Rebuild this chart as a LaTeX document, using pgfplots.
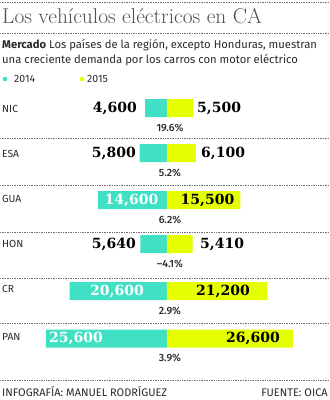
\documentclass[border=0pt]{standalone}
\usepackage{pgfplots}
\pgfplotsset{compat=1.18}
\usepackage{fontspec}
\setmainfont{Fira Sans}
\newfontfamily\numfont{DejaVu Serif}
\newfontfamily\titlefont{Latin Modern Roman}
\newfontfamily\medfont{Fira Sans Medium}
\definecolor{cteal}{HTML}{40E0C4}
\definecolor{cyel}{HTML}{E6FF00}
\definecolor{ctxt}{HTML}{2A2A2A}
\definecolor{ctitle}{HTML}{505050}
\definecolor{cdot}{HTML}{707070}
\begin{document}
\begin{tikzpicture}[x=1pt,y=1pt]
\tikzset{num/.style={font=\numfont\bfseries\fontsize{14}{14}\selectfont, inner sep=0pt},
 pct/.style={font=\medfont\fontsize{10.5}{10}\selectfont, text=ctxt, inner sep=0pt},
 ctry/.style={font=\fontsize{10.3}{10}\selectfont, text=ctxt, inner sep=0pt, anchor=west}}
\begin{axis}[
  at={(0,0)}, anchor=south west,
  scale only axis, width=330pt, height=400pt,
  xmin=-35.307, xmax=34.461,
  ymin=0, ymax=400, y dir=reverse,
  axis lines=none, ticks=none, clip=false,
]
\addplot[xbar, bar width=18pt, bar shift=0pt, fill=cteal, draw=none]
  coordinates {(-4.6,108) (-5.8,153) (-14.6,200) (-5.64,244) (-20.6,291) (-25.6,338.5)};
\addplot[xbar, bar width=18pt, bar shift=0pt, fill=cyel, draw=none]
  coordinates {(5.5,108) (6.1,153) (15.5,200) (5.41,244) (21.2,291) (26.6,338.5)};
% outside labels
\node[num, anchor=east] at (axis cs:-6.34,108) {4,600};
\node[num, anchor=west] at (axis cs:6.34,108) {5,500};
\node[num, anchor=east] at (axis cs:-6.55,153) {5,800};
\node[num, anchor=west] at (axis cs:7.19,153) {6,100};
\node[num, anchor=east] at (axis cs:-6.55,244) {5,640};
\node[num, anchor=west] at (axis cs:6.98,244) {5,410};
% inside labels
\node[num, text=white] at (axis cs:-7.5,200) {14,600};
\node[num] at (axis cs:8.56,200) {15,500};
\node[num, text=white] at (axis cs:-10.57,291) {20,600};
\node[num] at (axis cs:11.84,291) {21,200};
\node[num, text=white] at (axis cs:-19.24,338.5) {25,600};
\node[num] at (axis cs:18.18,338.5) {26,600};
% percentages
\node[pct] at (axis cs:0.63,127.5) {19.6\%};
\node[pct] at (axis cs:0.63,172.5) {5.2\%};
\node[pct] at (axis cs:0.63,219.5) {6.2\%};
\node[pct] at (axis cs:0.63,263.5) {–4.1\%};
\node[pct] at (axis cs:0.63,310.5) {2.9\%};
\node[pct] at (axis cs:0.63,358) {3.9\%};
\end{axis}
% dotted separators
\foreach \yy in {2,33,138,185,232,278,323,380} {
  \draw[cdot, line width=0.7pt, dash pattern=on 0.8pt off 0.9pt] (0,400-\yy) -- (330,400-\yy);
}
% title
\node[anchor=base west, inner sep=0pt, text=ctitle, font=\titlefont\fontsize{21.4}{21}\selectfont] at (2,400-23.5) {Los vehículos eléctricos en CA};
\node[anchor=base west, inner sep=0pt, text=ctxt, font=\fontsize{11.25}{11}\selectfont] at (2,400-49) {\textbf{Mercado} Los países de la región, excepto Honduras, muestran};
\node[anchor=base west, inner sep=0pt, text=ctxt, font=\fontsize{11.25}{11}\selectfont] at (2,400-63.5) {una creciente demanda por los carros con motor eléctrico};
% legend
\fill[cteal] (5,400-79) circle (2.3pt);
\node[anchor=base west, inner sep=0pt, text=ctxt, font=\fontsize{10.5}{10}\selectfont] at (14,400-83) {2014};
\fill[cyel] (82,400-79) circle (2.3pt);
\node[anchor=base west, inner sep=0pt, text=ctxt, font=\fontsize{10.5}{10}\selectfont] at (87,400-83) {2015};
% countries
\node[ctry] at (2,400-108.5) {NIC};
\node[ctry] at (2,400-153.5) {ESA};
\node[ctry] at (2,400-199) {GUA};
\node[ctry] at (2,400-243.5) {HON};
\node[ctry] at (2,400-288.5) {CR};
\node[ctry] at (2,400-336.5) {PAN};
% footer
\node[anchor=base west, inner sep=0pt, text=ctxt, font=\fontsize{11}{11}\selectfont] at (2,400-396) {INFOGRAFÍA: MANUEL RODRÍGUEZ};
\node[anchor=base east, inner sep=0pt, text=ctxt, font=\fontsize{11}{11}\selectfont] at (328,400-396) {FUENTE: OICA};
\pgfresetboundingbox
\path (0,0) rectangle (330,400);
\end{tikzpicture}
\end{document}
